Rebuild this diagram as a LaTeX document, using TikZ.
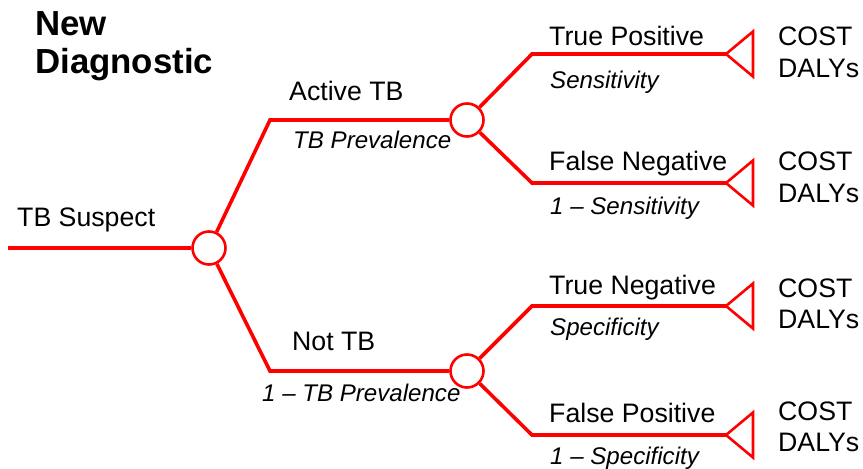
\documentclass[tikz,border=0pt]{standalone}
\usepackage{fontspec}
\setmainfont{Liberation Sans}
\begin{document}
\begin{tikzpicture}[x=1pt,y=-1pt,
  branch/.style={draw=treered,line width=3.6pt,line join=miter},
  chance/.style={circle,draw=treered,line width=2.6pt,fill=white,minimum size=33pt,inner sep=0pt},
  terminal/.style={draw=treered,line width=2.6pt,line join=miter},
  lbl/.style={anchor=base west,inner sep=0pt,font=\fontsize{26.7}{31}\selectfont},
  prob/.style={anchor=base west,inner sep=0pt,font=\fontsize{24.1}{28}\selectfont\itshape},
  title/.style={anchor=base west,inner sep=0pt,align=left,font=\fontsize{34.8}{40}\selectfont\bfseries}]
\definecolor{treered}{RGB}{255,0,0}
\useasboundingbox (0,0) rectangle (863,469);

% title
\node[title] (ttl) at (35,35) {New};
\node[title] (ttl2) at (35,73) {Diagnostic};

% chance nodes
\node[chance] (c1) at (209,248) {};
\node[chance] (c2) at (467,120) {};
\node[chance] (c3) at (467,371) {};

% bends and free ends
\coordinate (start) at (8,248);
\coordinate (k1) at (270,120);
\coordinate (k2) at (270,371);
\coordinate (k3) at (532,54);
\coordinate (k4) at (532,183);
\coordinate (k5) at (532,306);
\coordinate (k6) at (532,435);
\coordinate (t1) at (726,54);
\coordinate (t2) at (726,183);
\coordinate (t3) at (726,306);
\coordinate (t4) at (726,435);

% branches
\draw[branch] (start) -- (c1);
\draw[branch] (c1) -- (k1) -- (c2);
\draw[branch] (c1) -- (k2) -- (c3);
\draw[branch] (c2) -- (k3) -- (t1);
\draw[branch] (c2) -- (k4) -- (t2);
\draw[branch] (c3) -- (k5) -- (t3);
\draw[branch] (c3) -- (k6) -- (t4);

% terminal triangles
\foreach \t in {t1,t2,t3,t4}
  \draw[terminal] (\t) -- ++(27,-22.5) -- ++(0,45) -- cycle;

% branch labels
\node[lbl] (suspect) at (17,226) {TB Suspect};
\node[lbl] (active) at (289,100) {Active TB};
\node[prob] (prev) at (293,148) {TB Prevalence};
\node[lbl] (nottb) at (292,350) {Not TB};
\node[prob] (nprev) at (262,401) {1 -- TB Prevalence};

\node[lbl] (tp) at (549,45) {True Positive};
\node[prob] (sens) at (550,88) {Sensitivity};
\node[lbl] (fn) at (549,170) {False Negative};
\node[prob] (nsens) at (550,214) {1 -- Sensitivity};
\node[lbl] (tn) at (549,294) {True Negative};
\node[prob] (spec) at (550,335) {Specificity};
\node[lbl] (fp) at (549,422) {False Positive};
\node[prob] (nspec) at (550,464) {1 -- Specificity};

% payoffs
\node[lbl] (cost1) at (778,45) {COST};
\node[lbl] (daly1) at (778,77) {DALYs};
\node[lbl] (cost2) at (778,170) {COST};
\node[lbl] (daly2) at (778,202) {DALYs};
\node[lbl] (cost3) at (778,297) {COST};
\node[lbl] (daly3) at (778,328) {DALYs};
\node[lbl] (cost4) at (778,420) {COST};
\node[lbl] (daly4) at (778,451) {DALYs};
\end{tikzpicture}
\end{document}
